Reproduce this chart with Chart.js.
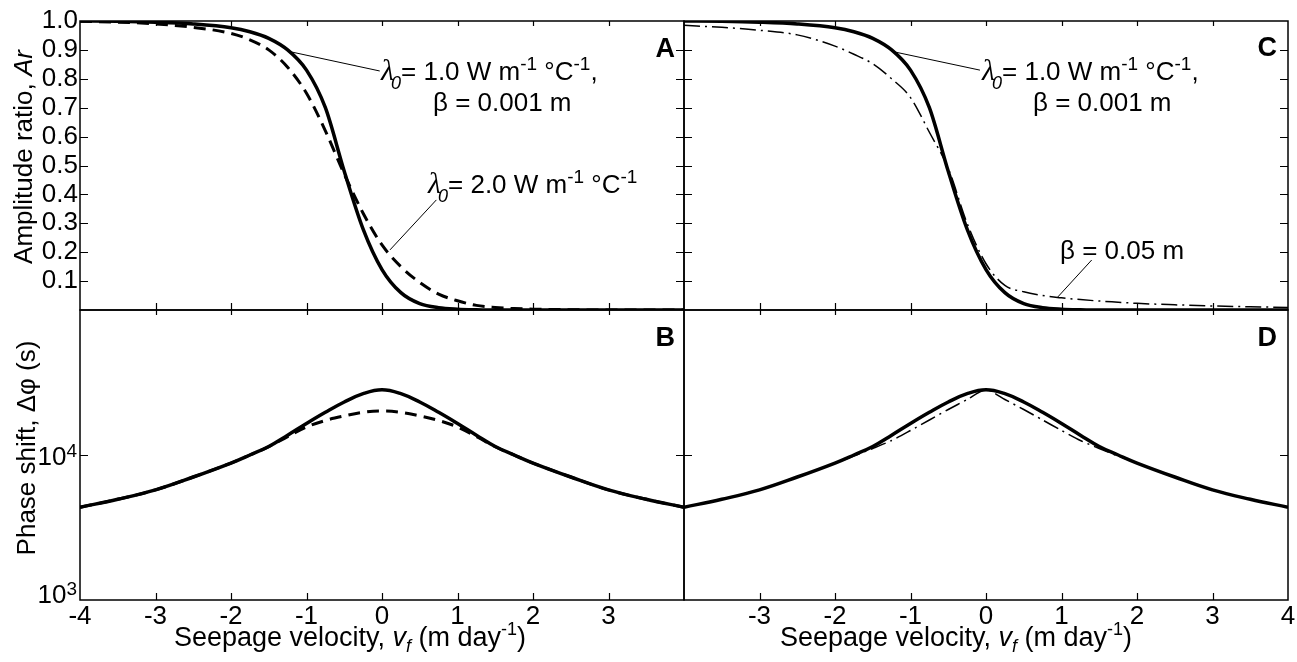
<!DOCTYPE html>
<html>
<head>
<meta charset="utf-8">
<script src="https://cdn.jsdelivr.net/npm/chart.js@4.4.1/dist/chart.umd.min.js"></script>
<style>
  html, body { margin: 0; padding: 0; background: #fff; }
  #wrap { position: relative; width: 1297px; height: 662px; overflow: hidden;
          font-family: "Liberation Sans", Arial, sans-serif; color: #000; }
  canvas { position: absolute; }
  .t { position: absolute; white-space: nowrap; font-size: 26px; line-height: 26px; }
  .t sup { font-size: 19px; line-height: 0; vertical-align: 10px; }
  .lam { font-family: "Liberation Serif", serif; font-style: italic; font-size: 30px; line-height: 0; }
  .s0 { font-style: italic; font-size: 18px; line-height: 0; vertical-align: -9px; margin-left: -3px; }
  .panel { position: absolute; font-weight: bold; font-size: 27px; line-height: 27px; }
  .xt { position: absolute; white-space: nowrap; font-size: 27px; line-height: 27px; transform: translateX(-50%); }
  .xt sup { font-size: 18px; line-height: 0; vertical-align: 11px; }
  .xt sub { font-size: 18px; line-height: 0; vertical-align: -6px; font-style: italic; }
  .yt { position: absolute; white-space: nowrap; font-size: 26px; line-height: 26px;
        transform: translate(-50%, -50%) rotate(-90deg); }
</style>
</head>
<body>
<div id="wrap">
  <canvas id="chartA" width="700" height="320" style="left:0;top:0"></canvas>
  <canvas id="chartB" width="700" height="362" style="left:0;top:300px"></canvas>
  <canvas id="chartC" width="627" height="320" style="left:670px;top:0"></canvas>
  <canvas id="chartD" width="627" height="362" style="left:670px;top:300px"></canvas>

  <div class="yt" style="left:23px;top:157px">Amplitude ratio, <i>Ar</i></div>
  <div class="yt" style="left:26px;top:448px">Phase shift, Δφ (s)</div>
  <div class="xt" style="left:350px;top:624px">Seepage velocity, <i>v</i><sub>f</sub> (m day<sup>-1</sup>)</div>
  <div class="xt" style="left:956px;top:624px">Seepage velocity, <i>v</i><sub>f</sub> (m day<sup>-1</sup>)</div>

  <div class="panel" style="right:622px;top:35px">A</div>
  <div class="panel" style="right:622px;top:324px">B</div>
  <div class="panel" style="right:20px;top:34px">C</div>
  <div class="panel" style="right:20px;top:324px">D</div>

  <div class="t" style="left:381px;top:58px"><span class="lam">λ</span><span class="s0">0</span>= 1.0 W m<sup>-1</sup> °C<sup>-1</sup>,</div>
  <div class="t" style="left:433px;top:89px">β = 0.001 m</div>
  <div class="t" style="left:428px;top:171px"><span class="lam">λ</span><span class="s0">0</span>= 2.0 W m<sup>-1</sup> °C<sup>-1</sup></div>
  <div class="t" style="left:982px;top:58px"><span class="lam">λ</span><span class="s0">0</span>= 1.0 W m<sup>-1</sup> °C<sup>-1</sup>,</div>
  <div class="t" style="left:1033px;top:89px">β = 0.001 m</div>
  <div class="t" style="left:1060px;top:237px">β = 0.05 m</div>
</div>

<script>
// seepage velocity samples (m/day)
const VF = [-4, -3.5, -3, -2.5, -2, -1.75, -1.5, -1.25, -1, -0.75, -0.5, -0.25, 0,
            0.25, 0.5, 0.75, 1, 1.25, 1.5, 1.75, 2, 2.5, 3, 3.5, 4];

// amplitude ratio Ar
const AR_BASE    = [1.0, 0.999, 0.996, 0.99, 0.977, 0.963, 0.94, 0.90, 0.83, 0.70, 0.48, 0.28, 0.14,
                    0.06, 0.022, 0.008, 0.003, 0.001, 0, 0, 0, 0, 0, 0, 0];
const AR_LAMBDA2 = [0.999, 0.996, 0.99, 0.978, 0.957, 0.935, 0.90, 0.84, 0.75, 0.62, 0.47, 0.335, 0.225,
                    0.15, 0.095, 0.055, 0.032, 0.016, 0.009, 0.005, 0.003, 0.001, 0, 0, 0];
const AR_BETA5   = [0.985, 0.978, 0.968, 0.952, 0.913, 0.885, 0.852, 0.80, 0.735, 0.615, 0.49, 0.30, 0.16,
                    0.085, 0.063, 0.05, 0.042, 0.036, 0.031, 0.027, 0.023, 0.018, 0.014, 0.011, 0.009];

// phase shift (s)
const PH_BASE    = [4360, 4950, 5750, 7050, 8800, 10000, 11450, 13700, 16500, 19700, 23200, 26500, 28200,
                    26500, 23200, 19700, 16500, 13700, 11450, 10000, 8800, 7050, 5750, 4950, 4360];
const PH_LAMBDA2 = [4360, 4950, 5750, 7050, 8800, 10000, 11400, 13400, 15600, 17300, 18600, 19700, 20100,
                    19700, 18600, 17300, 15600, 13400, 11400, 10000, 8800, 7050, 5750, 4950, 4360];
const PH_BETA5   = [4360, 4950, 5750, 7050, 8800, 9840, 11090, 12590, 14760, 17430, 20590, 24150, 28200,
                    24150, 20590, 17430, 14760, 12590, 11090, 9840, 8800, 7050, 5750, 4950, 4360];

// axes
const VF_TICKS = [-4, -3, -2, -1, 0, 1, 2, 3, 4];
const VF_LABELS_LEFT = [-4, -3, -2, -1, 0, 1, 2, 3];
const VF_LABELS_RIGHT = [-3, -2, -1, 0, 1, 2, 3, 4];
const AR_TICKS = [0, 0.1, 0.2, 0.3, 0.4, 0.5, 0.6, 0.7, 0.8, 0.9, 1.0];
const PH_TICKS = [1e3, 1e4, 1e5];
const PH_LABEL_EXP = [3, 4];

const FONT = '"Liberation Sans", Arial, sans-serif';
Chart.defaults.font.family = FONT;
Chart.defaults.color = '#000';

const pts = ys => VF.map((x, i) => ({ x, y: ys[i] }));

const SOLID_AR   = { borderWidth: 3.5, cubicInterpolationMode: 'monotone' };
const DASHED_AR  = { borderWidth: 3, borderDash: [12, 7], cubicInterpolationMode: 'monotone' };
const DASHDOT_AR = { borderWidth: 1.5, borderDash: [16, 5, 2, 5], cubicInterpolationMode: 'monotone' };
const SOLID_PH   = { borderWidth: 3.5, tension: 0.4 };
const DASHED_PH  = { borderWidth: 3, borderDash: [12, 7], tension: 0.4 };
const DASHDOT_PH = { borderWidth: 1.5, borderDash: [16, 5, 2, 5], tension: 0.25 };

function series(label, ys, style) {
  return Object.assign({ label, data: pts(ys), borderColor: '#000', pointRadius: 0, fill: false }, style);
}

// box, inward ticks, leader lines and 10^n labels
function framePlugin(o) {
  return {
    id: 'frame',
    afterDatasetsDraw(chart) {
      const { ctx, chartArea: a, scales: { x, y } } = chart;
      ctx.save();
      ctx.strokeStyle = '#000';
      ctx.lineWidth = 1.5;
      ctx.strokeRect(a.left, a.top, a.right - a.left, a.bottom - a.top);
      ctx.beginPath();
      VF_TICKS.slice(1, -1).forEach(v => {
        const px = Math.round(x.getPixelForValue(v)) + 0.5;
        ctx.moveTo(px, a.top); ctx.lineTo(px, a.top + 5);
        ctx.moveTo(px, a.bottom); ctx.lineTo(px, a.bottom - 7);
      });
      o.yTicks.slice(1, -1).forEach(v => {
        const py = Math.round(y.getPixelForValue(v)) + 0.5;
        ctx.moveTo(a.left, py); ctx.lineTo(a.left + 8, py);
        ctx.moveTo(a.right, py); ctx.lineTo(a.right - 8, py);
      });
      ctx.lineWidth = 1.2;
      ctx.stroke();

      ctx.beginPath();
      (o.leaders || []).forEach(([x1, y1, x2, y2]) => {
        ctx.moveTo(x.getPixelForValue(x1), y.getPixelForValue(y1));
        ctx.lineTo(x.getPixelForValue(x2), y.getPixelForValue(y2));
      });
      ctx.lineWidth = 1;
      ctx.stroke();

      if (o.logLabels) {
        ctx.fillStyle = '#000';
        ctx.textBaseline = 'alphabetic';
        ctx.textAlign = 'left';
        PH_LABEL_EXP.forEach(e => {
          const py = y.getPixelForValue(Math.pow(10, e));
          const base = Math.min(py + 10, a.bottom + 3);
          ctx.font = '19px ' + FONT;
          const we = ctx.measureText(String(e)).width;
          ctx.font = '26px ' + FONT;
          const wb = ctx.measureText('10').width;
          const xEnd = a.left - 3;
          ctx.fillText('10', xEnd - we - wb, base);
          ctx.font = '19px ' + FONT;
          ctx.fillText(String(e), xEnd - we, base - 8);
        });
      }
      ctx.restore();
    }
  };
}

function makeChart(id, datasets, o) {
  const xScale = {
    type: 'linear', min: -4, max: 4, display: !!o.xLabels,
    afterBuildTicks: s => { s.ticks = VF_TICKS.map(v => ({ value: v })); },
    afterFit: s => { if (o.xLabels) s.height = 62; },
    grid: { display: false, drawTicks: false }, border: { display: false },
    ticks: { autoSkip: false, maxRotation: 0, padding: 1, font: { size: 26 }, color: '#000',
             callback: v => (o.xLabels && o.xLabels.includes(v)) ? String(v) : '' }
  };
  const yScale = o.log ? {
    type: 'logarithmic', min: 1e3, max: 1e5, display: false,
    afterBuildTicks: s => { s.ticks = PH_TICKS.map(v => ({ value: v })); }
  } : {
    type: 'linear', min: 0, max: 1, display: !!o.yLabels,
    afterBuildTicks: s => { s.ticks = AR_TICKS.map(v => ({ value: v })); },
    afterFit: s => { if (o.yLabels) { s.width = 80; s.paddingTop = 0; s.paddingBottom = 0; } },
    grid: { display: false, drawTicks: false }, border: { display: false },
    ticks: { autoSkip: false, padding: 2, font: { size: 26 }, color: '#000',
             callback: v => v === 0 ? '' : v.toFixed(1) }
  };
  return new Chart(document.getElementById(id), {
    type: 'line',
    data: { datasets },
    options: {
      responsive: false, animation: false, devicePixelRatio: 1,
      layout: { padding: o.padding },
      plugins: { legend: { display: false }, tooltip: { enabled: false } },
      scales: { x: xScale, y: yScale }
    },
    plugins: [framePlugin(o)]
  });
}

makeChart('chartA', [
  series('λ0 = 2.0', AR_LAMBDA2, DASHED_AR),
  series('λ0 = 1.0, β = 0.001', AR_BASE, SOLID_AR)
], { yLabels: true, yTicks: AR_TICKS, padding: { top: 21, right: 16, bottom: 10, left: 0 },
     leaders: [[-1.22, 0.894, -0.03, 0.827], [0.72, 0.381, 0.106, 0.208]] });

makeChart('chartB', [
  series('λ0 = 2.0', PH_LAMBDA2, DASHED_PH),
  series('λ0 = 1.0, β = 0.001', PH_BASE, SOLID_PH)
], { log: true, logLabels: true, xLabels: VF_LABELS_LEFT, yTicks: PH_TICKS,
     padding: { top: 10, right: 16, bottom: 0, left: 80 } });

makeChart('chartC', [
  series('β = 0.05', AR_BETA5, DASHDOT_AR),
  series('λ0 = 1.0, β = 0.001', AR_BASE, SOLID_AR)
], { yTicks: AR_TICKS, padding: { top: 21, right: 9, bottom: 10, left: 14 },
     leaders: [[-1.23, 0.894, -0.08, 0.83], [1.40, 0.173, 0.94, 0.042]] });

makeChart('chartD', [
  series('β = 0.05', PH_BETA5, DASHDOT_PH),
  series('λ0 = 1.0, β = 0.001', PH_BASE, SOLID_PH)
], { log: true, xLabels: VF_LABELS_RIGHT, yTicks: PH_TICKS,
     padding: { top: 10, right: 9, bottom: 0, left: 14 } });
</script>
</body>
</html>
